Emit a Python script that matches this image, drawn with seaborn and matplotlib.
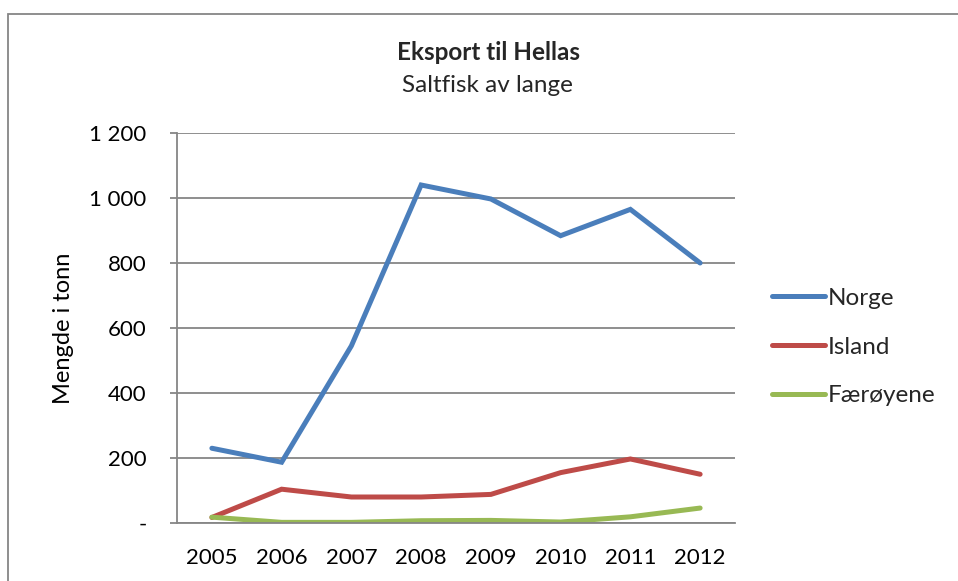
import matplotlib
matplotlib.use("Agg")
import matplotlib.pyplot as plt
import matplotlib.ticker as mticker
from matplotlib.patches import Rectangle
import seaborn as sns
import pandas as pd

years = [2005, 2006, 2007, 2008, 2009, 2010, 2011, 2012]
norge = [230, 187, 545, 1040, 997, 884, 965, 800]
island = [17, 104, 80, 80, 88, 155, 197, 150]
faeroyene = [18, 2, 2, 7, 8, 3, 19, 46]
series_names = ["Norge", "Island", "Færøyene"]
colors = ["#4A7EBB", "#BE4B48", "#98B954"]
y_ticks = [0, 200, 400, 600, 800, 1000, 1200]

sns.set_theme(style="white")
plt.rcParams["font.family"] = ["Lato", "DejaVu Sans"]

df = pd.DataFrame({
    "År": [str(y) for y in years] * 3,
    "Mengde": norge + island + faeroyene,
    "Land": sum([[n] * len(years) for n in series_names], []),
})

fig = plt.figure(figsize=(9.58, 5.81), dpi=100)
ax = fig.add_axes([177 / 958, 1 - 523 / 581, (735 - 177) / 958, (523 - 133) / 581])

sns.lineplot(data=df, x="År", y="Mengde", hue="Land", hue_order=series_names,
             palette=colors, linewidth=3.6, sort=False, ax=ax, legend=True)
for ln in ax.get_lines():
    ln.set_solid_capstyle("round")
    ln.set_solid_joinstyle("miter")

ax.set_xlim(-0.5, len(years) - 0.5)
ax.set_ylim(0, 1200)
ax.set_yticks(y_ticks)


def fmt(v, pos):
    if v == 0:
        return "-"
    return f"{int(v):,}".replace(",", " ")


ax.yaxis.set_major_formatter(mticker.FuncFormatter(fmt))
ax.yaxis.grid(True, color="#868686", linewidth=1.3)
ax.set_axisbelow(True)
for side in ["top", "right"]:
    ax.spines[side].set_visible(False)
for side in ["left", "bottom"]:
    ax.spines[side].set_color("#868686")
    ax.spines[side].set_linewidth(1.3)
ax.tick_params(axis="y", left=True, length=5, width=1.3, color="#868686",
               labelsize=16, pad=17, labelcolor="black")
ax.tick_params(axis="x", bottom=False, labelsize=16, pad=12, labelcolor="black")
ax.set_xlabel("")
ax.set_ylabel("Mengde i tonn", fontsize=17, labelpad=11, color="black")

handles, labels = ax.get_legend_handles_labels()
leg = ax.legend(handles, labels, loc="center left", bbox_to_anchor=(772 / 958, 1 - 347 / 581),
                bbox_transform=fig.transFigure, frameon=False, fontsize=17.5,
                handlelength=2.2, handletextpad=0.1, labelspacing=1.15, borderaxespad=0,
                borderpad=0)
for h in leg.get_lines():
    h.set_linewidth(3.6)
    h.set_solid_capstyle("round")

fig.text(488 / 958, 1 - 52 / 581, "Eksport til Hellas", ha="center", va="center",
         fontsize=17.5, fontweight="bold")
fig.text(487 / 958, 1 - 85 / 581, "Saltfisk av lange", ha="center", va="center",
         fontsize=17.5)

fig.patches.append(Rectangle((8 / 958, -0.1), 1.2, 1.1 - 14 / 581, transform=fig.transFigure,
                             fill=False, edgecolor="#868686", linewidth=1.3))

fig.savefig("out.png", dpi=100)
